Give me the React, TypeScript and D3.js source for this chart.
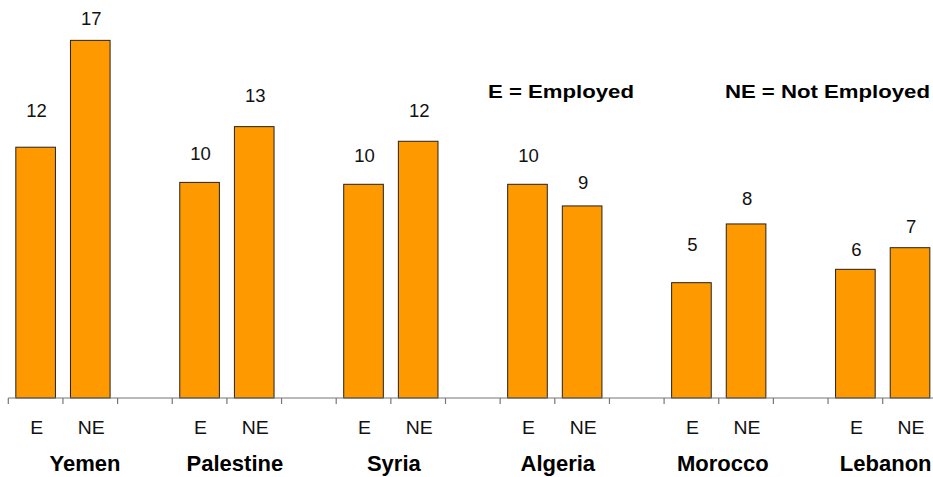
import React from "react";
import * as d3 from "d3";

// Share of respondents by employment status, per country
const countries = ["Yemen", "Palestine", "Syria", "Algeria", "Morocco", "Lebanon"];
const employed = [11.83, 10.17, 10.08, 10.08, 5.44, 6.07];
const notEmployed = [16.87, 12.8, 12.11, 9.06, 8.21, 7.09];
const legendItems = ["E = Employed", "NE = Not Employed"];

// Layout tweaks for the hand-placed annotations (pixels)
const labelGapE = [30, 22, 22, 22, 32, 13];
const labelGapNE = [15, 25, 24, 17, 19, 15];
const countryNudge = [22, 8, 3, 3, 4, 3];

const W = 933;
const H = 477;
const baseY = 398;
const FONT = "'Liberation Sans', Arial, Helvetica, sans-serif";

type Slot = { key: string; ci: number; status: string | null; value: number | null };

// E, NE and an empty spacer slot for each country (no spacer after the last)
const slots: Slot[] = [];
countries.forEach((c, i) => {
  slots.push({ key: `${c}|E`, ci: i, status: "E", value: employed[i] });
  slots.push({ key: `${c}|NE`, ci: i, status: "NE", value: notEmployed[i] });
  if (i < countries.length - 1) slots.push({ key: `${c}|gap`, ci: i, status: null, value: null });
});

const x0 = 8.3;
const slotW = 54.65;
const x = d3
  .scaleBand<string>()
  .domain(slots.map((s) => s.key))
  .range([x0, x0 + slotW * slots.length])
  .paddingInner(0.275)
  .paddingOuter(0.1375);

const y = d3.scaleLinear().domain([0, 18]).range([baseY, baseY - 18 * 21.2]);
const fmt = d3.format(".0f");

export default function App() {
  const step = x.step();
  const tickXs = d3.range(slots.length + 1).map((i) => x0 + i * step);
  const mid = (key: string) => x(key)! + x.bandwidth() / 2 + 1;

  return (
    <svg
      width={W}
      height={H}
      viewBox={`0 0 ${W} ${H}`}
      style={{ position: "absolute", left: 0, top: 0, background: "#fff" }}
      fontFamily={FONT}
    >
      {/* bars */}
      {slots
        .filter((s) => s.value !== null)
        .map((s) => {
          const bx = x(s.key)!;
          const by = y(s.value!);
          return (
            <rect
              key={s.key}
              x={bx}
              y={by}
              width={x.bandwidth()}
              height={baseY - by}
              fill="#FF9900"
              stroke="#222"
              strokeWidth={1}
            />
          );
        })}

      {/* value labels */}
      {slots
        .filter((s) => s.value !== null)
        .map((s) => {
          const gap = s.status === "E" ? labelGapE[s.ci] : labelGapNE[s.ci];
          return (
            <text
              key={`lbl-${s.key}`}
              x={mid(s.key)}
              y={y(s.value!) - gap}
              textAnchor="middle"
              fontSize={18.5}
              fill="#111"
            >
              {fmt(s.value!)}
            </text>
          );
        })}

      {/* category axis */}
      <line x1={x0} x2={W} y1={baseY} y2={baseY} stroke="#777" strokeWidth={1.2} />
      {tickXs.map((tx, i) => (
        <line key={`t${i}`} x1={tx} x2={tx} y1={baseY} y2={baseY + 6} stroke="#777" strokeWidth={1.2} />
      ))}

      {/* status labels */}
      {slots
        .filter((s) => s.status !== null)
        .map((s) => (
          <g key={`st-${s.key}`} transform={`translate(${mid(s.key)},434) scale(1.08,1)`}>
            <text x={0} y={0} textAnchor="middle" fontSize={18} fill="#111">
              {s.status}
            </text>
          </g>
        ))}

      {/* country labels */}
      {countries.map((c, i) => {
        const cx = (x(`${c}|E`)! + x(`${c}|NE`)! + x.bandwidth()) / 2 + countryNudge[i];
        return (
          <text key={c} x={cx} y={471} textAnchor="middle" fontSize={22} fontWeight="bold" fill="#000">
            {c}
          </text>
        );
      })}

      {/* legend notes */}
      <g transform="translate(488,97.5) scale(1.18,1)">
        <text x={0} y={0} fontSize={18.8} fontWeight="bold" fill="#000">
          {legendItems[0]}
        </text>
      </g>
      <g transform="translate(930,97.5) scale(1.18,1)">
        <text x={0} y={0} fontSize={18.8} fontWeight="bold" fill="#000" textAnchor="end">
          {legendItems[1]}
        </text>
      </g>
    </svg>
  );
}
